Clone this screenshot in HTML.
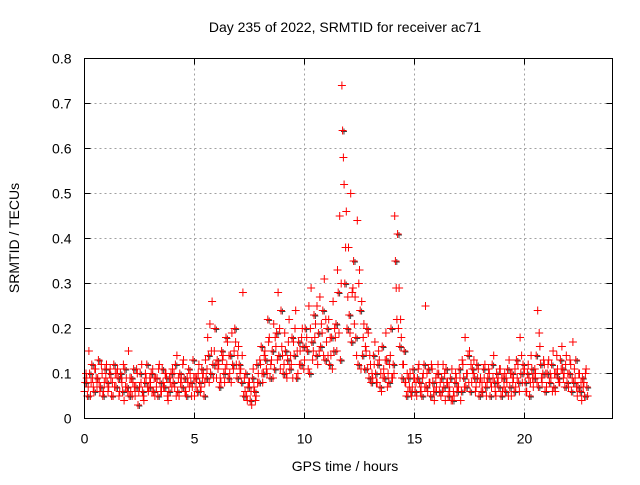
<!DOCTYPE html>
<html><head><meta charset="utf-8"><style>
body{margin:0;background:#fff;}
svg text{font-family:"Liberation Sans",sans-serif;font-size:14px;fill:#000;}
</style></head><body>
<svg id="chart" width="640" height="480" viewBox="0 0 640 480" xmlns="http://www.w3.org/2000/svg">
<rect width="640" height="480" fill="#fff"/>
<text x="345" y="32" text-anchor="middle">Day 235 of 2022, SRMTID for receiver ac71</text>
<text transform="translate(19,238) rotate(-90)" text-anchor="middle">SRMTID / TECUs</text>
<text x="345" y="471" text-anchor="middle">GPS time / hours</text>
<g id="grid"></g>
<g id="ticks"></g>
<g id="points"></g>
<rect x="84.5" y="58.5" width="528" height="360" fill="none" stroke="#000" stroke-width="1"/>
</svg>
<script>
const xTicks=[0,5,10,15,20];
const yTicks=[0,0.1,0.2,0.3,0.4,0.5,0.6,0.7,0.8];
const yTickLabels=["0","0.1","0.2","0.3","0.4","0.5","0.6","0.7","0.8"];
const tStart=0, tStep=0.1;
const srmtidA=[.06,.09,.15,.08,.07,.11,.09,.06,.10,.08,
.12,.07,.09,.05,.10,.11,.06,.08,.04,.09,
.15,.06,.08,.05,.10,.07,.12,.04,.09,.06,
.08,.11,.05,.09,.12,.06,.07,.10,.04,.08,
.11,.07,.14,.05,.09,.13,.06,.08,.10,.07,
.05,.09,.12,.07,.10,.13,.18,.21,.26,.15,
.09,.12,.08,.14,.11,.17,.10,.19,.15,.12,
.16,.11,.28,.06,.04,.08,.03,.07,.05,.10,
.12,.08,.15,.10,.18,.13,.21,.16,.28,.11,
.14,.19,.09,.22,.12,.17,.24,.10,.15,.20,
.13,.18,.25,.29,.15,.21,.12,.27,.19,.31,
.17,.22,.14,.26,.18,.33,.45,.74,.52,.46,
.38,.50,.29,.27,.44,.33,.26,.21,.15,.19,
.12,.09,.17,.08,.13,.06,.11,.19,.10,.14,
.09,.45,.22,.29,.18,.12,.08,.06,.10,.07,
.09,.05,.12,.07,.10,.25,.06,.08,.11,.04,
.07,.10,.05,.12,.04,.08,.06,.11,.05,.09,
.07,.04,.12,.18,.10,.15,.08,.13,.07,.11,
.09,.06,.12,.08,.10,.07,.14,.05,.09,.11,
.06,.10,.08,.13,.05,.09,.07,.12,.18,.08,
.11,.06,.09,.14,.07,.10,.24,.16,.08,.12,
.07,.13,.09,.15,.06,.11,.08,.16,.10,.14,
.07,.12,.17,.09,.05,.10,.04,.08,.11];
const srmtidB=[.08,.05,.10,.12,.06,.09,.13,.07,.05,.11,
.08,.10,.05,.12,.07,.09,.10,.06,.11,.07,
.05,.09,.11,.07,.03,.10,.06,.08,.12,.07,
.10,.06,.09,.05,.08,.11,.07,.09,.06,.10,
.08,.12,.06,.10,.07,.09,.05,.11,.08,.13,
.09,.06,.08,.11,.05,.09,.14,.10,.12,.20,
.13,.07,.15,.10,.18,.09,.14,.12,.20,.09,
.12,.08,.05,.10,.07,.04,.09,.06,.12,.08,
.16,.10,.13,.22,.09,.15,.11,.19,.14,.24,
.10,.15,.13,.11,.18,.14,.09,.17,.12,.16,
.20,.15,.10,.17,.23,.14,.19,.16,.24,.13,
.20,.12,.18,.15,.21,.28,.13,.64,.30,.20,
.23,.17,.35,.18,.12,.24,.14,.11,.20,.09,
.08,.14,.10,.12,.07,.16,.09,.13,.08,.20,
.12,.35,.41,.16,.09,.15,.05,.09,.06,.11,
.06,.09,.08,.05,.12,.07,.11,.05,.08,.06,
.10,.06,.09,.07,.11,.05,.09,.04,.08,.06,
.11,.06,.09,.07,.14,.06,.11,.09,.12,.05,
.06,.11,.07,.09,.05,.12,.08,.10,.07,.05,
.09,.06,.11,.07,.10,.06,.13,.08,.10,.12,
.08,.10,.05,.11,.09,.14,.07,.12,.10,.06,
.10,.08,.12,.07,.10,.09,.13,.11,.07,.08,
.10,.06,.08,.13,.07,.06,.09,.05,.07];
const srmtidC=[.10,.07,.05,.09,.11,.07,.08,.12,.06,.09,
.06,.11,.08,.07,.10,.05,.09,.12,.07,.06,
.09,.05,.07,.11,.06,.08,.05,.10,.07,.09,
.06,.09,.07,.11,.06,.08,.10,.05,.09,.07,
.10,.05,.09,.08,.12,.06,.09,.07,.05,.09,
.07,.10,.06,.09,.08,.11,.08,.15,.09,.12,
.11,.09,.13,.08,.12,.14,.08,.11,.17,.14,
.10,.14,.09,.05,.08,.06,.11,.04,.08,.13,
.10,.14,.11,.17,.12,.09,.18,.13,.20,.16,
.12,.10,.17,.14,.09,.20,.15,.12,.18,.11,
.16,.11,.20,.13,.18,.25,.15,.21,.14,.22,
.14,.18,.11,.20,.15,.19,.30,.58,.38,.27,
.19,.28,.21,.14,.30,.11,.18,.16,.11,.14,
.10,.12,.08,.15,.10,.09,.13,.07,.12,.09,
.10,.29,.20,.22,.12,.08,.10,.07,.05,.09,
.08,.11,.06,.09,.07,.10,.08,.12,.06,.09,
.12,.08,.06,.10,.08,.07,.04,.06,.10,.07,
.09,.13,.07,.10,.08,.12,.10,.06,.09,.08,
.08,.09,.05,.11,.08,.09,.06,.08,.11,.09,
.07,.09,.05,.10,.08,.11,.09,.06,.14,.10,
.06,.12,.08,.09,.11,.08,.19,.09,.13,.10,
.12,.10,.06,.10,.14,.08,.11,.09,.12,.10,
.13,.09,.11,.07,.10,.08,.07,.10,.05];
const NS="http://www.w3.org/2000/svg";
const L=84.5,R=612.5,T=58.5,B=418.5;
function xs(v){return L+(v/24)*(R-L);}
function ys(v){return B-(v/0.8)*(B-T);}
function mk(tag,attrs,parent){const e=document.createElementNS(NS,tag);for(const k in attrs)e.setAttribute(k,attrs[k]);parent.appendChild(e);return e;}
const grid=document.getElementById('grid'),ticks=document.getElementById('ticks'),pts=document.getElementById('points');
xTicks.forEach(v=>{const x=xs(v);
 if(v>0){const g=mk('line',{x1:x,x2:x,y1:T,y2:B,stroke:'#a0a0a0','stroke-dasharray':'2,3'},grid);
 
 }
 mk('line',{x1:x,x2:x,y1:B,y2:B-6,stroke:'#000'},ticks);
 mk('line',{x1:x,x2:x,y1:T,y2:T+6,stroke:'#000'},ticks);
 const t=mk('text',{x:x,y:B+25,'text-anchor':'middle'},ticks);t.textContent=String(v);
 
 
});
yTicks.forEach((v,i)=>{const y=ys(v);
 if(v>0&&v<0.8){const g=mk('line',{x1:L,x2:R,y1:y,y2:y,stroke:'#a0a0a0','stroke-dasharray':'2,3'},grid);
 
 }
 mk('line',{x1:L,x2:L+6,y1:y,y2:y,stroke:'#000'},ticks);
 mk('line',{x1:R,x2:R-6,y1:y,y2:y,stroke:'#000'},ticks);
 const t=mk('text',{x:L-13,y:y+5,'text-anchor':'end'},ticks);t.textContent=yTickLabels[i];
 
 
});
let d='',dg='';
function addSeries(arr,off){arr.forEach((v,i)=>{const t=tStart+i*tStep+off;const x=xs(t),y=ys(v);
 d+=`M${(x-4).toFixed(1)} ${y.toFixed(1)}h8M${x.toFixed(1)} ${(y-4).toFixed(1)}v8`;});}
function addGray(arr,off){arr.forEach((v,i)=>{const t=tStart+i*tStep+off;const x=xs(t)+1,y=ys(v)+1;
 dg+=`M${(x-3).toFixed(1)} ${y.toFixed(1)}h6M${x.toFixed(1)} ${(y-3).toFixed(1)}v6`;});}
addGray(srmtidB,0.05);
addSeries(srmtidA,0);addSeries(srmtidB,0.033);addSeries(srmtidC,0.067);
const pg=mk('path',{d:dg,stroke:'#404040','stroke-width':1,fill:'none'},pts);


const pr=mk('path',{d:d,stroke:'#ff0000','stroke-width':1,fill:'none'},pts);


</script>
</body></html>
